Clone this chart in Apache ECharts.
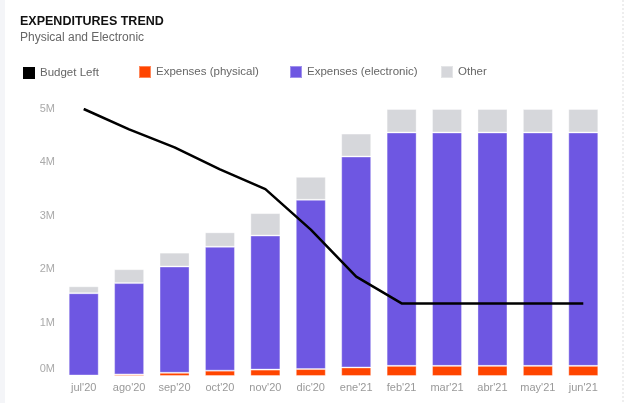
<!DOCTYPE html>
<html>
<head>
<meta charset="utf-8">
<script src="https://cdn.jsdelivr.net/npm/echarts@6/dist/echarts.min.js"></script>
<style>
  html, body { margin: 0; padding: 0; background: #fff; }
  #chart { width: 628px; height: 403px; }
</style>
</head>
<body>
<div id="chart"></div>
<script>
  const months = ["jul'20", "ago'20", "sep'20", "oct'20", "nov'20", "dic'20",
    "ene'21", "feb'21", "mar'21", "abr'21", "may'21", "jun'21"];
  const budgetLeft = [5.0, 4.62, 4.28, 3.87, 3.5, 2.74, 1.86, 1.36, 1.36, 1.36, 1.36, 1.36];
  const physical = [0.01, 0.03, 0.06, 0.1, 0.12, 0.13, 0.16, 0.19, 0.19, 0.19, 0.19, 0.19];
  const electronic = [1.54, 1.71, 1.99, 2.32, 2.51, 3.17, 3.95, 4.37, 4.37, 4.37, 4.37, 4.37];
  const other = [0.13, 0.26, 0.26, 0.27, 0.42, 0.43, 0.43, 0.44, 0.44, 0.44, 0.44, 0.44];
  const legendNames = ['Budget Left', 'Expenses (physical)', 'Expenses (electronic)', 'Other'];

  const M = 1e6;
  const toUnits = arr => arr.map(v => v * M);

  const chart = echarts.init(document.getElementById('chart'));

  const barStyle = function (color) {
    return { color: color, borderColor: 'rgba(255,255,255,0.35)', borderWidth: 1 };
  };

  // one legend per item, the reference spaces them unevenly
  const legendLeft = [18, 133, 284, 435];
  const legends = legendNames.map(function (name, i) {
    return {
      left: legendLeft[i],
      top: i === 0 ? 62 : 60,
      itemWidth: 12,
      itemHeight: 12,
      icon: 'rect',
      textStyle: { fontSize: 11.5, color: '#666' },
      data: [name]
    };
  });

  chart.setOption({
    animation: false,
    textStyle: { fontFamily: 'Liberation Sans, Arial, sans-serif' },
    title: {
      text: 'EXPENDITURES TREND',
      subtext: 'Physical and Electronic',
      left: 15,
      top: 10,
      itemGap: 4,
      textStyle: { fontSize: 12.5, fontWeight: 'bold', color: '#111' },
      subtextStyle: { fontSize: 12, color: '#666' }
    },
    legend: legends,
    grid: { left: 61, right: 22, top: 109, bottom: 27, containLabel: false },
    xAxis: {
      type: 'category',
      data: months,
      axisLine: { show: false },
      axisTick: { show: false },
      axisLabel: { color: '#999', fontSize: 11, margin: 6, interval: 0 }
    },
    yAxis: {
      type: 'value',
      min: 0,
      max: 5 * M,
      interval: M,
      splitLine: { show: false },
      axisLine: { show: false },
      axisTick: { show: false },
      axisLabel: {
        color: '#aaa',
        fontSize: 11,
        margin: 6,
        formatter: function (v) {
          return v === 0 ? '{z|0M}' : (v / M) + 'M';
        },
        rich: { z: { color: '#aaa', fontSize: 11, padding: [0, 0, 14, 0] } }
      }
    },
    graphic: [
      { type: 'rect', left: 0, top: 0, shape: { width: 5, height: 403 }, style: { fill: '#f4f5f8' }, silent: true },
      { type: 'line', shape: { x1: 623, y1: 0, x2: 623, y2: 403 }, style: { stroke: '#ddd', lineWidth: 1, lineDash: [2, 2] }, silent: true }
    ],
    series: [
      {
        name: 'Budget Left',
        type: 'line',
        data: toUnits(budgetLeft),
        z: 5,
        symbol: 'none',
        itemStyle: { color: '#000' },
        lineStyle: { color: '#000', width: 2.5 }
      },
      {
        name: 'Expenses (physical)',
        type: 'bar',
        stack: 'exp',
        barWidth: 30,
        data: toUnits(physical),
        itemStyle: barStyle('#ff4500')
      },
      {
        name: 'Expenses (electronic)',
        type: 'bar',
        stack: 'exp',
        barWidth: 30,
        data: toUnits(electronic),
        itemStyle: barStyle('#6e57e2')
      },
      {
        name: 'Other',
        type: 'bar',
        stack: 'exp',
        barWidth: 30,
        data: toUnits(other),
        itemStyle: barStyle('#d6d7db')
      }
    ]
  });
</script>
</body>
</html>
